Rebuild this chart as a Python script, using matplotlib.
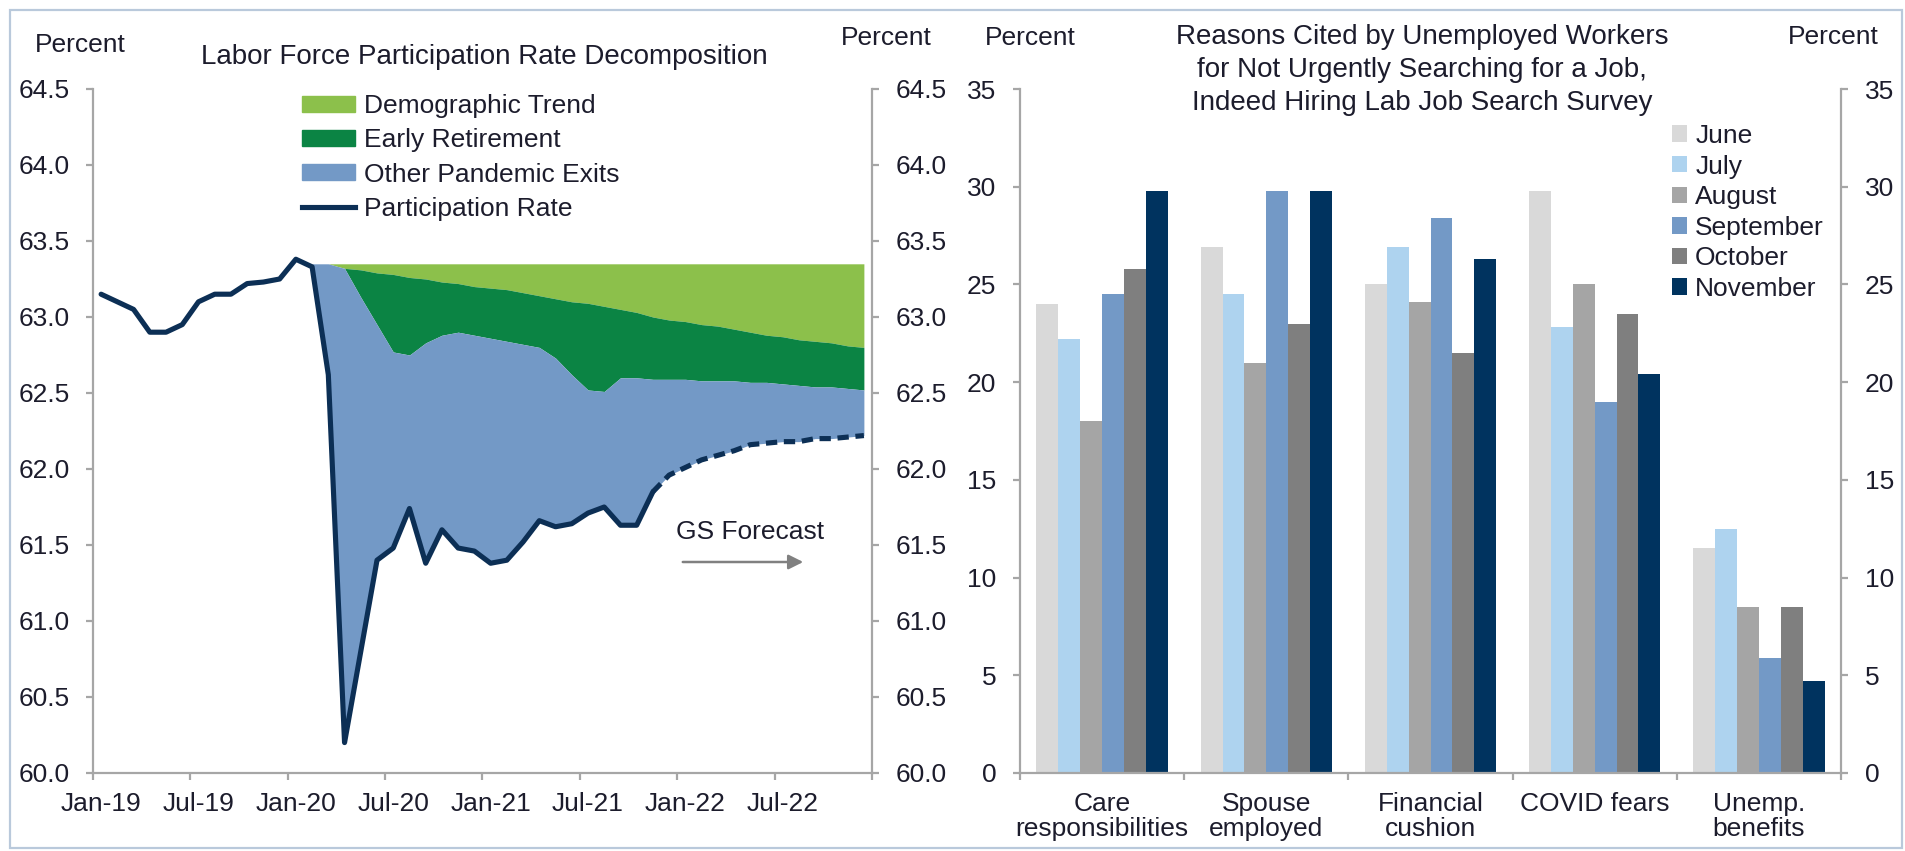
import numpy as np
import matplotlib
matplotlib.use("Agg")
import matplotlib.pyplot as plt
from matplotlib.patches import Patch, Rectangle
from matplotlib.lines import Line2D

plt.rcParams['font.family'] = ['Liberation Sans', 'DejaVu Sans']

W, H = 1905, 851
text_col = '#1c1c2c'
axis_col = '#a6a6a6'

# ---- left panel data: monthly Jan-19 .. Dec-22 ----
tick_labels = ['Jan-19', 'Jul-19', 'Jan-20', 'Jul-20', 'Jan-21', 'Jul-21', 'Jan-22', 'Jul-22']

# participation rate (actual through Nov-21, forecast afterwards)
lfpr = [63.15, 63.10, 63.05, 62.90, 62.90, 62.95, 63.10, 63.15, 63.15, 63.22, 63.23, 63.25,
        63.38, 63.33, 62.62, 60.20, 60.80, 61.40, 61.48, 61.74, 61.38, 61.60, 61.48, 61.46,
        61.38, 61.40, 61.52, 61.66, 61.62, 61.64, 61.71, 61.75, 61.63, 61.63, 61.85, 61.96,
        62.01, 62.06, 62.09, 62.12, 62.16, 62.17, 62.18, 62.18, 62.20, 62.20, 62.21, 62.22]
last_actual = 34          # Nov-21

# decomposition starts Feb-20
decomp_start = 13
pre_covid_level = 63.35
# demographic trend path (bottom of light green)
trend = [63.35, 63.35, 63.32, 63.31, 63.29, 63.28, 63.26, 63.25, 63.23, 63.22, 63.20, 63.19,
         63.18, 63.16, 63.14, 63.12, 63.10, 63.09, 63.07, 63.05, 63.03, 63.00, 62.98, 62.97,
         62.95, 62.94, 62.92, 62.90, 62.88, 62.87, 62.85, 62.84, 62.83, 62.81, 62.80]
# trend less early retirement (top of "other pandemic exits")
pandemic_top = [63.35, 63.35, 63.32, 63.13, 62.95, 62.77, 62.75, 62.83, 62.88, 62.90, 62.88, 62.86,
                62.84, 62.82, 62.80, 62.73, 62.62, 62.52, 62.51, 62.60, 62.60, 62.59, 62.59, 62.59,
                62.58, 62.58, 62.58, 62.57, 62.57, 62.56, 62.55, 62.54, 62.54, 62.53, 62.52]

# ---- right panel data ----
reasons = ['Care\nresponsibilities', 'Spouse\nemployed', 'Financial\ncushion', 'COVID fears', 'Unemp.\nbenefits']
survey_months = ['June', 'July', 'August', 'September', 'October', 'November']
june = [24.0, 26.9, 25.0, 29.8, 11.5]
july = [22.2, 24.5, 26.9, 22.8, 12.5]
august = [18.0, 21.0, 24.1, 25.0, 8.5]
september = [24.5, 29.8, 28.4, 19.0, 5.9]
october = [25.8, 23.0, 21.5, 23.5, 8.5]
november = [29.8, 29.8, 26.3, 20.4, 4.7]
bar_colors = ['#d9d9d9', '#aed3ef', '#a5a5a5', '#7399c6', '#7f7f7f', '#00335f']

c_trend = '#8cc04b'
c_retire = '#0b8444'
c_other = '#7399c6'
c_line = '#0c2f55'

fs = 19
fs_title = 20

fig = plt.figure(figsize=(W / 100, H / 100), dpi=100)


def fx(px):
    return px / W


def fy(py):
    return 1 - py / H


def style_axes(ax):
    ax.spines['top'].set_visible(False)
    for s in ['left', 'right', 'bottom']:
        ax.spines[s].set_color(axis_col)
        ax.spines[s].set_linewidth(1.6)
    ax.tick_params(axis='y', which='both', left=True, right=True, labelleft=True, labelright=True,
                   direction='out', length=5, width=1.6, color=axis_col, pad=12,
                   labelsize=fs, labelcolor=text_col)
    ax.tick_params(axis='x', which='major', direction='out', length=5, width=1.6,
                   color=axis_col, labelbottom=False)


# ================= left panel =================
ax1 = fig.add_axes([fx(93), fy(773), fx(872 - 93), (773 - 89) / H])
style_axes(ax1)
x = np.arange(len(lfpr))
xd = x[decomp_start:]
lf = np.array(lfpr)

ax1.fill_between(xd, trend, pre_covid_level, color=c_trend, lw=0)
ax1.fill_between(xd, pandemic_top, trend, color=c_retire, lw=0)
ax1.fill_between(xd, lf[decomp_start:], pandemic_top, color=c_other, lw=0)

ax1.plot(x[:last_actual + 1], lf[:last_actual + 1], color=c_line, lw=3.7,
         solid_joinstyle='round', solid_capstyle='round', zorder=5)
ax1.plot(x[last_actual:], lf[last_actual:], color=c_line, lw=3.7,
         linestyle=(0, (2.2, 1.3)), zorder=5)

ax1.set_xlim(-0.5, len(lfpr) - 0.5)
ax1.set_ylim(60, 64.5)
ax1.set_yticks(np.arange(60, 64.51, 0.5))
ax1.set_yticklabels([f'{v:.1f}' for v in np.arange(60, 64.51, 0.5)])
ax1.set_xticks(np.arange(-0.5, len(lfpr), 6))
ax1.set_xticks(np.arange(0, len(lfpr) - 1, 6), minor=True)
ax1.set_xticklabels(tick_labels, minor=True)
ax1.tick_params(axis='x', which='minor', length=0, pad=14, labelsize=fs, labelcolor=text_col)

ax1.annotate('', xy=(fx(806), fy(562)), xytext=(fx(680), fy(562)),
             xycoords='figure fraction', textcoords='figure fraction',
             arrowprops=dict(arrowstyle='-|>', color='#808080', lw=1.8, mutation_scale=22))
fig.text(fx(750), fy(532), 'GS Forecast', ha='center', va='center', fontsize=fs, color=text_col)

handles = [Patch(color=c_trend), Patch(color=c_retire), Patch(color=c_other),
           Line2D([0], [0], color=c_line, lw=3.7)]
fig.legend(handles, ['Demographic Trend', 'Early Retirement', 'Other Pandemic Exits', 'Participation Rate'],
           loc='upper left', bbox_to_anchor=(fx(302), fy(94)), frameon=False, fontsize=fs,
           handlelength=2.0, handleheight=0.55, handletextpad=0.35, labelspacing=0.39,
           borderpad=0, borderaxespad=0, labelcolor=text_col)

fig.text(fx(80), fy(45), 'Percent', ha='center', va='center', fontsize=fs, color=text_col)
fig.text(fx(886), fy(38), 'Percent', ha='center', va='center', fontsize=fs, color=text_col)
fig.text(fx(484), fy(57), 'Labor Force Participation Rate Decomposition', ha='center', va='center',
         fontsize=fs_title, color=text_col)

# ================= right panel =================
ax2 = fig.add_axes([fx(1020), fy(773), fx(1841 - 1020), (773 - 89) / H])
style_axes(ax2)
series = [june, july, august, september, october, november]
n = len(series)
bw = 0.8 / n
xc = np.arange(len(reasons))
for i, (vals, name, col) in enumerate(zip(series, survey_months, bar_colors)):
    ax2.bar(xc - 0.4 + bw * (i + 0.5), vals, width=bw, color=col, label=name, lw=0)

ax2.set_xlim(-0.5, len(reasons) - 0.5)
ax2.set_ylim(0, 35)
ax2.set_yticks(np.arange(0, 36, 5))
ax2.set_xticks(np.arange(-0.5, len(reasons), 1))
ax2.set_xticks(xc, minor=True)
ax2.set_xticklabels(reasons, minor=True, linespacing=1.05)
ax2.tick_params(axis='x', which='minor', length=0, pad=14, labelsize=fs, labelcolor=text_col)

ax2.legend(loc='upper left', bbox_to_anchor=(fx(1672), fy(124)), bbox_transform=fig.transFigure,
           frameon=False, fontsize=fs, handlelength=0.58, handleheight=0.58, handletextpad=0.3,
           labelspacing=0.25, borderpad=0, borderaxespad=0, labelcolor=text_col)

fig.text(fx(1030), fy(38), 'Percent', ha='center', va='center', fontsize=fs, color=text_col)
fig.text(fx(1833), fy(37), 'Percent', ha='center', va='center', fontsize=fs, color=text_col)
title_lines = ['Reasons Cited by Unemployed Workers',
               'for Not Urgently Searching for a Job,',
               'Indeed Hiring Lab Job Search Survey']
for k, line in enumerate(title_lines):
    fig.text(fx(1422), fy(37 + 33 * k), line, ha='center', va='center',
             fontsize=fs_title, color=text_col)

# outer frame
fig.patches.append(Rectangle((fx(10), fy(848)), fx(1902 - 10), (848 - 10) / H,
                             transform=fig.transFigure, fill=False, edgecolor='#b9c9db', lw=1.6))

fig.savefig('out.png', dpi=100)
